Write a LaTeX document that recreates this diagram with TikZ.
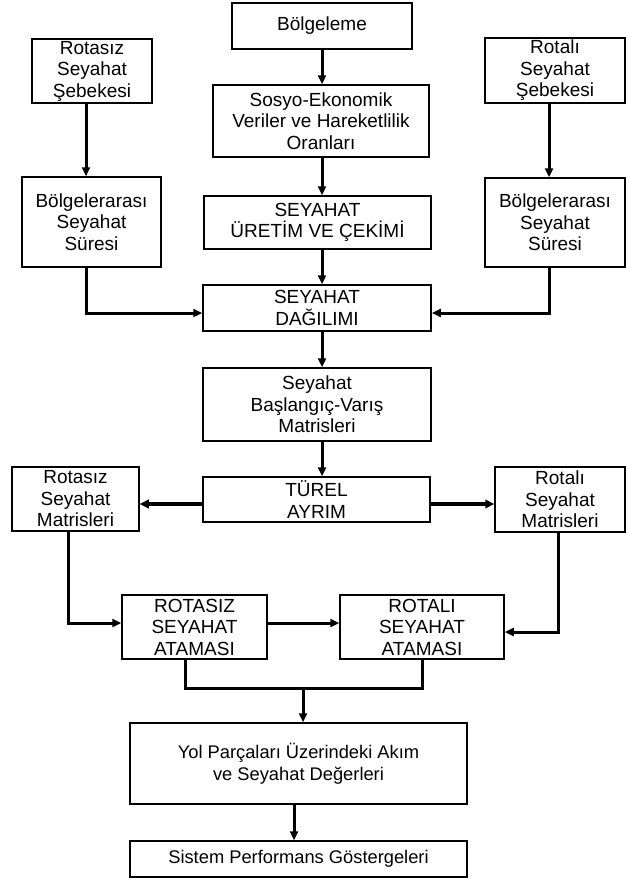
\documentclass[tikz,border=0pt]{standalone}
\usepackage{fontspec}
\setmainfont{Liberation Sans}
\usetikzlibrary{arrows.meta}
\begin{document}
\begin{tikzpicture}[x=1pt,y=-1pt,
  box/.style={draw, line width=1.5pt, inner sep=0pt, align=center,
    font=\fontsize{19}{21.5}\selectfont},
  smallbox/.style={box, font=\fontsize{18.3}{22}\selectfont},
  conn/.style={line width=3pt, -{Triangle[length=9pt,width=8pt]}},
  thickconn/.style={line width=3.8pt, -{Triangle[length=9pt,width=8.5pt]}},
  wire/.style={line width=3pt}]
\useasboundingbox (0,0) rectangle (626,878);

% boxes
\node[box, minimum width=180pt, minimum height=46pt] (bolg) at (322,26) {Bölgeleme};
\node[box, minimum width=120pt, minimum height=64pt] (rsb) at (92,71) {Rotasız\\Seyahat\\Şebekesi};
\node[box, minimum width=140pt, minimum height=65pt] (rlsb) at (555,70.5) {Rotalı\\Seyahat\\Şebekesi};
\node[box, minimum width=216pt, minimum height=72pt] (sosyo) at (321,121) {Sosyo-Ekonomik\\Veriler ve Hareketlilik\\Oranları};
\node[box, minimum width=139pt, minimum height=90pt] (bsl) at (91.5,222) {Bölgelerarası\\Seyahat\\Süresi};
\node[box, minimum width=140pt, minimum height=89pt] (bsr) at (555,222.5) {Bölgelerarası\\Seyahat\\Süresi};
\node[box, minimum width=227pt, minimum height=53pt] (uretim) at (317.5,222.5) {SEYAHAT\\ÜRETİM VE ÇEKİMİ};
\node[box, minimum width=228pt, minimum height=46pt] (dag) at (317,308) {SEYAHAT\\DAĞILIMI};
\node[box, minimum width=228pt, minimum height=73pt] (bv) at (317,404.5) {Seyahat\\Başlangıç-Varış\\Matrisleri};
\node[box, minimum width=227pt, minimum height=45pt] (turel) at (316.5,499.5) {TÜREL\\AYRIM};
\node[box, minimum width=127pt, minimum height=64pt] (rsm) at (75.5,499) {Rotasız\\Seyahat\\Matrisleri};
\node[box, minimum width=130pt, minimum height=65pt] (rlm) at (560,499.5) {Rotalı\\Seyahat\\Matrisleri};
\node[box, minimum width=145pt, minimum height=64pt] (ras) at (194.5,627) {ROTASIZ\\SEYAHAT\\ATAMASI};
\node[box, minimum width=164pt, minimum height=64pt] (rla) at (422,627) {ROTALI\\SEYAHAT\\ATAMASI};
\node[smallbox, minimum width=337pt, minimum height=81pt] (yol) at (298.5,763.5) {Yol Parçaları Üzerindeki Akım\\ve Seyahat Değerleri};
\node[smallbox, minimum width=337pt, minimum height=36pt] (sis) at (298.5,859) {Sistem Performans Göstergeleri};

% helper coordinates
\coordinate (cx) at (322,0);
\coordinate (lx) at (86,0);
\coordinate (rx) at (549,0);
\coordinate (ay) at (0,313);
\coordinate (ty) at (0,504);
\coordinate (lx2) at (68,0);
\coordinate (rx2) at (558,0);
\coordinate (ay2) at (0,623);
\coordinate (ay3) at (0,632);
\coordinate (m1) at (185,688);
\coordinate (m2) at (422,688);
\coordinate (mj) at (303,688);
\coordinate (bx) at (294,0);

% central chain
\draw[conn] (cx |- bolg.south) -- (cx |- sosyo.north);
\draw[conn] (cx |- sosyo.south) -- (cx |- uretim.north);
\draw[conn] (cx |- uretim.south) -- (cx |- dag.north);
\draw[conn] (cx |- dag.south) -- (cx |- bv.north);
\draw[conn] (cx |- bv.south) -- (cx |- turel.north);

% side columns
\draw[conn] (lx |- rsb.south) -- (lx |- bsl.north);
\draw[conn] (rx |- rlsb.south) -- (rx |- bsr.north);
\draw[conn] (lx |- bsl.south) |- (ay -| dag.west);
\draw[conn] (rx |- bsr.south) |- (ay -| dag.east);

% split
\draw[thickconn] (ty -| turel.west) -- (ty -| rsm.east);
\draw[thickconn] (ty -| turel.east) -- (ty -| rlm.west);

% assignments
\draw[conn] (lx2 |- rsm.south) |- (ay2 -| ras.west);
\draw[conn] (ay2 -| ras.east) -- (ay2 -| rla.west);
\draw[conn] (rx2 |- rlm.south) |- (ay3 -| rla.east);

% merge
\draw[wire] (m1 |- ras.south) -- (m1) -- (m2) -- (m2 |- rla.south);
\draw[conn] (mj) -- (mj |- yol.north);
\draw[conn] (bx |- yol.south) -- (bx |- sis.north);
\end{tikzpicture}
\end{document}
